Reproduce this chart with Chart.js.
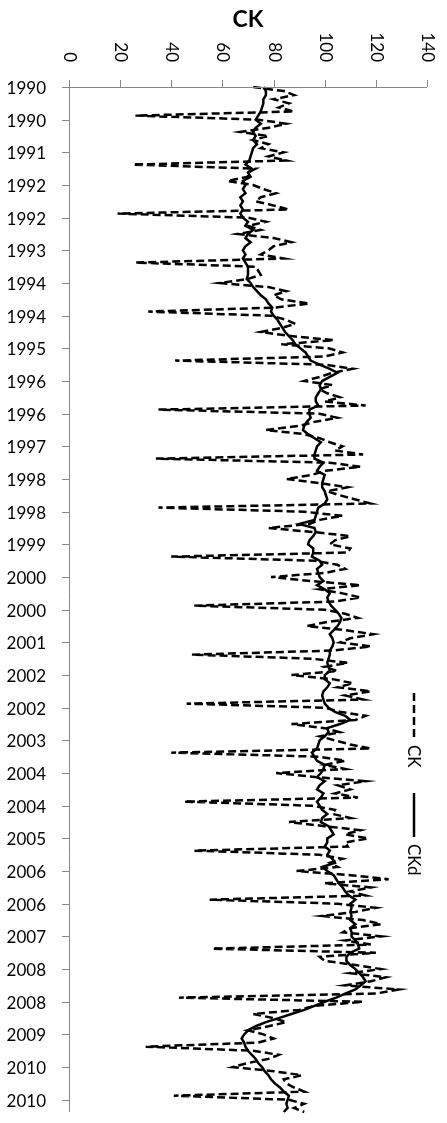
<!DOCTYPE html>
<html><head><meta charset="utf-8">
<script src="https://cdn.jsdelivr.net/npm/chart.js@4.4.1/dist/chart.umd.min.js"></script>
<style>html,body{margin:0;padding:0;background:#fff;}#wrap{width:447px;height:1123px;position:relative;}</style>
</head><body><div id="wrap"><canvas id="c" width="447" height="1123"></canvas></div>
<script>
const startYear = 1990, endYear = 2010;
const yearTicks = ['1990','1990','1991','1992','1992','1993','1994','1994','1995','1996','1996','1997','1998','1998','1999','2000','2000','2001','2002','2002','2003','2004','2004','2005','2006','2006','2007','2008','2008','2009','2010','2010'];
const tickEvery = 8;
const valueTicks = [0,20,40,60,80,100,120,140];
const titleText = 'CK';
const seriesNames = ['CK','CKd'];

const ck = [
72,84,88,80,86,82,88,26,74,85,78,67,
78,72,78,75,84,78,85,25,73,70,70,62,
72,76,81,75,73,80,86,19,70,77,70,75,
66,80,87,80,78,75,84,26,73,74,75,70,
59,78,85,80,83,94,81,31,79,85,88.5,83,
75,87,103.5,83,101.5,107,100,41.5,100,111,103,98,
92,103,98,101,106,100,116,35,98,105,96,90,
77,92,98,102,107,104,115,34,102,114,100,95,
85,98,109,101,106,112,118,35,92,107,98,94,
78,96,110,104,102,110,109,40,96,105,108,100,
79,95,114,98,107,114,104,49,100,108,113,101,
93,108,119,110,106,118,103,48,95,109,100,105,
87,103,111,105,118,108,115,46,100,106,116,112,
87,100,106,98,104,110,118,40,98,108,100,108,
81,97,116,105,110,104,113,45,95,104,103,110,
86,100,114,108,117,108,109,49,98,107,102,105,
89,110,125,100,118,110,116,55,105,120,112,99,
115,122,110,107,122,108,118,56,120,98,100,112,
122,110,124,118,108,129,120,43,115,96,90,72,
80,85,78,70,76,80,74,30,72,82,78,70,
64,80,91,84,85,88,92,41,86,92,88,92
];
const ckd = [
76,77,77,76,76,75.5,75,74,73,75,73,72,
73,72,73.5,72,71.5,71,70.5,69,71.5,70,71,68,
69,68,69,67,68,67,68,67,68,70,69,72,
70,69,71,69,68,69,68,69,70,70,70,69.5,
71,72,73.5,75,77,78,79.5,79,80,81.5,82.5,83.5,
84.5,86,87.5,88.5,90.5,92.5,93.5,94.5,98,102,105,102,
99,98,98.5,97.5,96.5,96.5,97.5,94,94,94.5,93,92,
91.5,93.5,96,98.5,97,96.5,96,96,99.5,98,97,100,
99.5,99,99,100,100.5,101,100,97.5,97,96.5,96,90,
96,96.5,95.5,94,93.5,95.5,95.5,95,98,99,97,97.5,
98,99.5,97,100,102,101,101.5,102.5,104,105.5,106.5,106,
105,103.5,102,103,103.5,103,102,102,101.5,101,101.5,102,
100,100,102,101,99.5,99,99.5,100,101.5,104,108,110,
106,101,101.5,100,98,97.5,97,95,96,97,100,99.5,
98.5,97,100,98,97,99.5,98.5,97,98,99,101,99,
98.5,101.5,102.5,103.5,101,101,100,102,101,103,104,99,
101,103.5,104.5,105.5,107,108,109.5,112,110,110.5,110,110.5,
110,112,110,110.5,110.5,112,113,113.5,110,108.5,108.5,110,
112,113.5,115,116,114,112,108,104.5,100,96,92,87,
82,77,73,70,68.5,67.5,68.5,69,70,71.5,73,74,
75.5,76.5,78,79,80.5,82.5,84,86,85.5,85,85.5,84
];

const categories = [];
for (let y = startYear; y <= endYear; y++) for (let m = 1; m <= 12; m++) categories.push(y + '-' + String(m).padStart(2, '0'));

const FONT = 'Lato, "Open Sans", "DejaVu Sans", sans-serif';
const AXIS = '#868686';

const decor = {
  id: 'decor',
  afterDraw(chart) {
    const ctx = chart.ctx, a = chart.chartArea;
    const xs = chart.scales.x, ys = chart.scales.y;
    ctx.save();
    // axis lines
    ctx.strokeStyle = AXIS; ctx.lineWidth = 1;
    ctx.beginPath();
    ctx.moveTo(a.left, a.top + 0.5); ctx.lineTo(a.right, a.top + 0.5);
    ctx.moveTo(a.left + 0.5, a.top); ctx.lineTo(a.left + 0.5, a.bottom);
    ctx.stroke();
    // top ticks + labels (rotated clockwise)
    ctx.fillStyle = '#000';
    ctx.font = '17px ' + FONT;
    valueTicks.forEach(v => {
      const px = Math.round(xs.getPixelForValue(v)) + 0.5;
      ctx.beginPath(); ctx.moveTo(px, a.top - 7); ctx.lineTo(px, a.top); ctx.stroke();
      ctx.save();
      ctx.translate(px, a.top - 25);
      ctx.rotate(Math.PI / 2);
      ctx.textAlign = 'right'; ctx.textBaseline = 'middle';
      ctx.fillText(String(v), 0, 0);
      ctx.restore();
    });
    // left ticks + labels
    ctx.textAlign = 'right'; ctx.textBaseline = 'middle';
    yearTicks.forEach((t, k) => {
      const py = Math.round(ys.getPixelForValue(k * tickEvery)) + 0.5;
      ctx.beginPath(); ctx.moveTo(a.left - 7, py); ctx.lineTo(a.left, py); ctx.stroke();
      ctx.fillText(t, a.left - 23, py + 1);
    });
    // title
    ctx.font = 'bold 23px ' + FONT;
    ctx.textAlign = 'center'; ctx.textBaseline = 'middle';
    ctx.fillText(titleText, (a.left + a.right) / 2, 20);
    // legend (rotated clockwise)
    ctx.save();
    ctx.translate(414, 693);
    ctx.rotate(Math.PI / 2);
    ctx.strokeStyle = '#000'; ctx.lineWidth = 2.5;
    ctx.setLineDash([8, 4]);
    ctx.beginPath(); ctx.moveTo(0, 0); ctx.lineTo(46, 0); ctx.stroke();
    ctx.setLineDash([]);
    ctx.beginPath(); ctx.moveTo(100, 0); ctx.lineTo(144, 0); ctx.stroke();
    ctx.font = '17px ' + FONT;
    ctx.textAlign = 'left'; ctx.textBaseline = 'middle';
    ctx.fillText(seriesNames[0], 52, 1);
    ctx.fillText(seriesNames[1], 151, 1);
    ctx.restore();
    ctx.restore();
  }
};

new Chart(document.getElementById('c'), {
  type: 'line',
  data: {
    labels: categories,
    datasets: [
      { label: seriesNames[0], data: ck, borderColor: '#000', borderWidth: 2.5, borderDash: [8, 4], pointRadius: 0, tension: 0, fill: false },
      { label: seriesNames[1], data: ckd, borderColor: '#000', borderWidth: 2.5, pointRadius: 0, tension: 0, fill: false }
    ]
  },
  options: {
    indexAxis: 'y',
    responsive: false,
    animation: false,
    devicePixelRatio: 1,
    layout: { padding: { left: 69, top: 87, right: 20, bottom: 11 } },
    plugins: { legend: { display: false }, title: { display: false }, tooltip: { enabled: false } },
    scales: {
      x: { type: 'linear', position: 'top', min: 0, max: 140, display: false },
      y: { type: 'category', display: false, offset: false }
    }
  },
  plugins: [decor]
});
</script>
</body></html>
